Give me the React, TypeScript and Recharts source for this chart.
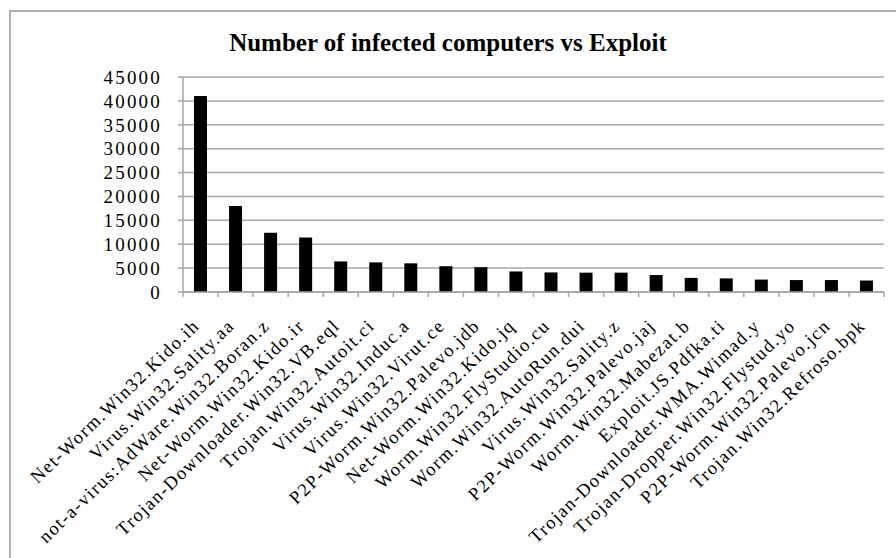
import { BarChart, Bar, XAxis, YAxis, CartesianGrid } from 'recharts';

const categories = [
  "Net-Worm.Win32.Kido.ih",
  "Virus.Win32.Sality.aa",
  "not-a-virus:AdWare.Win32.Boran.z",
  "Net-Worm.Win32.Kido.ir",
  "Trojan-Downloader.Win32.VB.eql",
  "Trojan.Win32.Autoit.ci",
  "Virus.Win32.Induc.a",
  "Virus.Win32.Virut.ce",
  "P2P-Worm.Win32.Palevo.jdb",
  "Net-Worm.Win32.Kido.jq",
  "Worm.Win32.FlyStudio.cu",
  "Worm.Win32.AutoRun.dui",
  "Virus.Win32.Sality.z",
  "P2P-Worm.Win32.Palevo.jaj",
  "Worm.Win32.Mabezat.b",
  "Exploit.JS.Pdfka.ti",
  "Trojan-Downloader.WMA.Wimad.y",
  "Trojan-Dropper.Win32.Flystud.yo",
  "P2P-Worm.Win32.Palevo.jcn",
  "Trojan.Win32.Refroso.bpk",
];

const infected = [
  41000, 18000, 12400, 11400, 6400, 6200, 6000, 5400, 5200, 4300,
  4100, 4050, 4050, 3550, 2950, 2850, 2600, 2500, 2500, 2400,
];

const yTicks = [0, 5000, 10000, 15000, 20000, 25000, 30000, 35000, 40000, 45000];

const data = categories.map((name, i) => ({ name, value: infected[i] }));

const W = 896;
const H = 558;
const M = { top: 77, right: 12, left: 103, bottom: 0 };
const Y_W = 80;
const STEP = (W - M.left - Y_W - M.right) / categories.length;

const SERIF = "'Liberation Serif', serif";

// category label rotated, plus tick marks on the band boundaries (Excel style)
const CategoryTick = (props: any) => {
  const { x, y, payload, index } = props;
  const last = index === categories.length - 1;
  const ax = x;
  const ay = y + 27;
  return (
    <g>
      <line x1={x - STEP / 2} y1={y - 8} x2={x - STEP / 2} y2={y - 3} stroke="#a6a6a6" strokeWidth={1.5} />
      {last && (
        <line x1={x + STEP / 2} y1={y - 8} x2={x + STEP / 2} y2={y - 3} stroke="#a6a6a6" strokeWidth={1.5} />
      )}
      <text
        x={ax}
        y={ay}
        transform={`rotate(-44 ${ax} ${ay})`}
        textAnchor="end"
        fontSize={18.5}
        letterSpacing={1.5}
        fontFamily={SERIF}
        fill="#000"
      >
        {payload.value}
      </text>
    </g>
  );
};

export default function App() {
  return (
    <div style={{ position: 'absolute', left: 0, top: 0, width: W, height: H, overflow: 'hidden', background: '#fff' }}>
      <div
        style={{
          position: 'absolute',
          left: 9,
          top: 10,
          width: W + 20,
          height: H + 20,
          border: '2px solid #b0b0b0',
        }}
      />
      <div
        style={{
          position: 'absolute',
          left: 0,
          top: 29,
          width: W,
          textAlign: 'center',
          fontFamily: SERIF,
          fontWeight: 'bold',
          fontSize: 25,
          color: '#000',
        }}
      >
        Number of infected computers vs Exploit
      </div>
      <div style={{ position: 'absolute', left: 0, top: 0 }}>
        <BarChart width={W} height={H} data={data} margin={M} barSize={13}>
          <CartesianGrid vertical={false} stroke="#a6a6a6" strokeWidth={1.5} />
          <XAxis
            dataKey="name"
            interval={0}
            height={H - M.top - 215}
            tick={<CategoryTick />}
            tickLine={false}
            axisLine={{ stroke: '#a6a6a6', strokeWidth: 1.5 }}
          />
          <YAxis
            width={Y_W}
            domain={[0, 45000]}
            ticks={yTicks}
            interval={0}
            tickSize={5}
            tickMargin={16}
            tickLine={{ stroke: '#a6a6a6', strokeWidth: 1.5 }}
            axisLine={{ stroke: '#a6a6a6', strokeWidth: 1.5 }}
            tick={{ fill: '#000', fontSize: 19, fontFamily: SERIF, letterSpacing: 2.2 }}
          />
          <Bar dataKey="value" fill="#000" isAnimationActive={false} />
        </BarChart>
      </div>
    </div>
  );
}
